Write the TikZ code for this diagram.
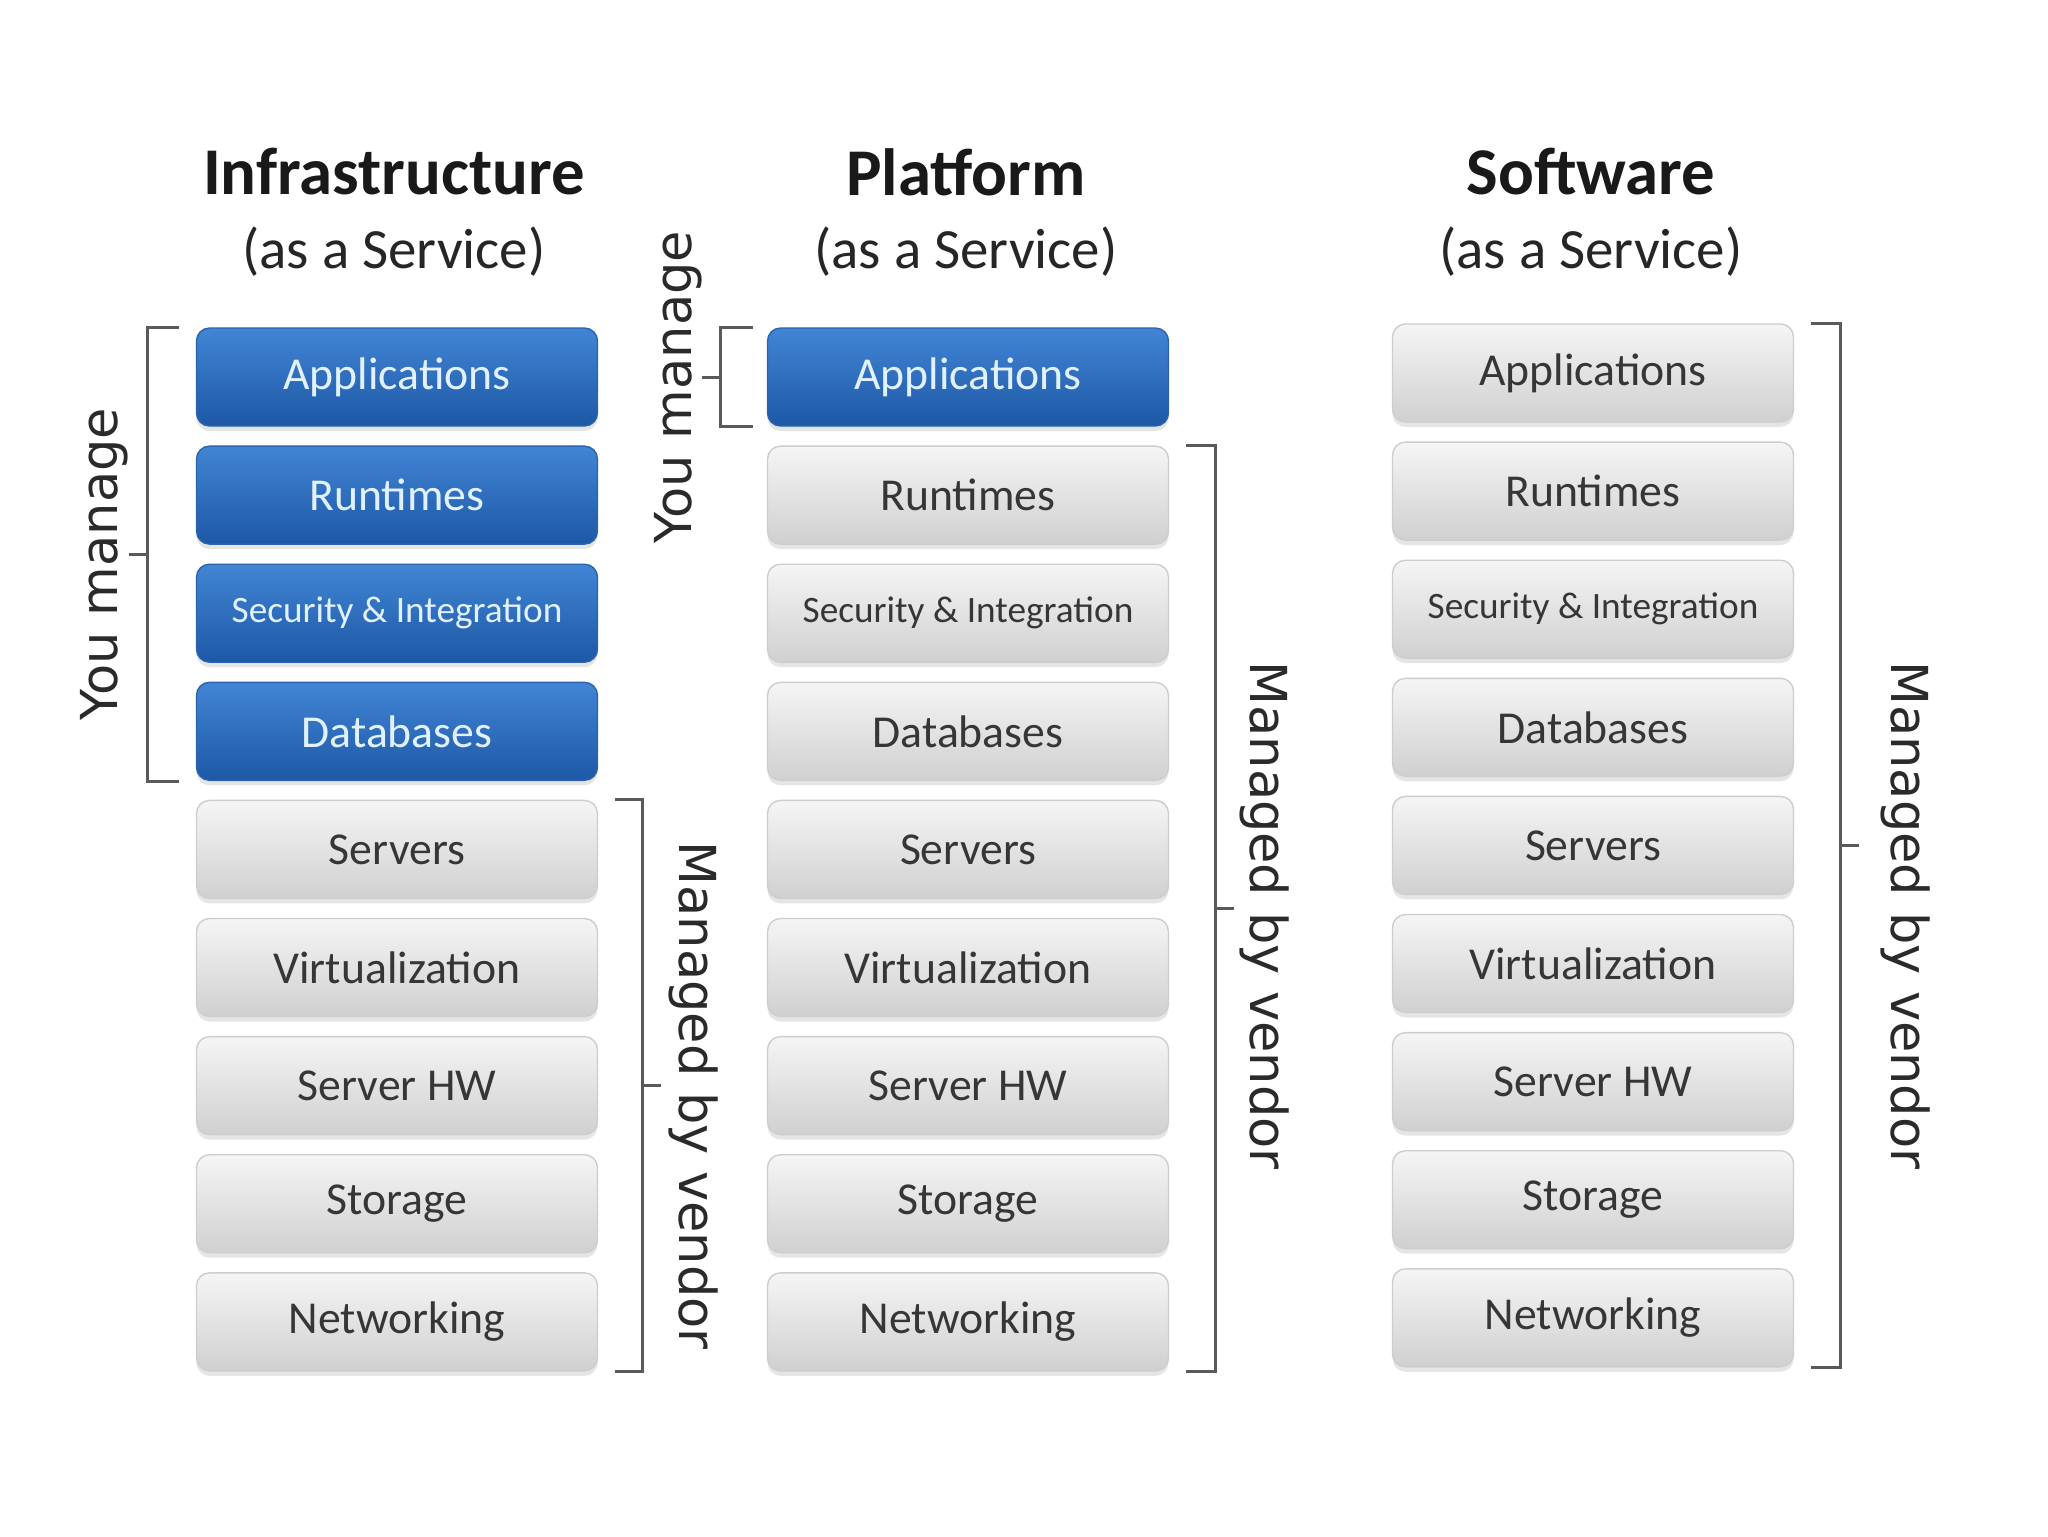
\documentclass[tikz,border=0pt]{standalone}
\usepackage{fontspec}
\setmainfont{Carlito}
\newfontfamily\sidefont{DejaVu Sans}
\usetikzlibrary{positioning,calc,shadows}
\definecolor{blueTop}{HTML}{4185D4}
\definecolor{blueBot}{HTML}{1D58A6}
\definecolor{blueLine}{HTML}{2B64AE}
\definecolor{blueText}{HTML}{E2F1FF}
\definecolor{grayTop}{HTML}{F5F5F5}
\definecolor{grayBot}{HTML}{D0D0D0}
\definecolor{grayLine}{HTML}{CDCDCD}
\definecolor{grayText}{HTML}{363636}
\definecolor{brkGray}{HTML}{5A5A5A}
\definecolor{sideText}{HTML}{2A2A2A}
\tikzset{
  layer/.style={rectangle,rounded corners=1.3mm,minimum width=40.1mm,minimum height=9.8mm,
    inner sep=0pt,font=\fontsize{13}{15}\selectfont,
    drop shadow={shadow xshift=0mm,shadow yshift=-0.5mm,opacity=0.2}},
  mine/.style={layer,top color=blueTop,bottom color=blueBot,draw=blueLine,text=blueText},
  theirs/.style={layer,top color=grayTop,bottom color=grayBot,draw=grayLine,text=grayText},
  small/.style={font=\fontsize{10.6}{12}\selectfont},
  brk/.style={draw=brkGray,line width=0.3mm},
  side/.style={font=\sidefont\fontsize{14.5}{16}\selectfont,text=sideText,inner sep=0pt},
  title/.style={font=\bfseries\fontsize{19}{22}\selectfont,text=black!90},
  sub/.style={font=\fontsize{16.2}{19}\selectfont,text=black!85},
}
\begin{document}
\begin{tikzpicture}[x=0.1mm,y=-0.1mm,node distance=11.81mm,on grid]
  \useasboundingbox[fill=white] (0,0) rectangle (2048,1536);
  % Infrastructure
  \node[title] (tI) at (394,172) {Infrastructure};
  \node[sub] (sI) at (394,252) {(as a Service)};
  \node[mine] (i1) at (397,377) {Applications};
  \node[mine] (i2) [below=of i1] {Runtimes};
  \node[mine,small] (i3) [below=of i2] {Security \& Integration};
  \node[mine] (i4) [below=of i3] {Databases};
  \node[theirs] (i5) [below=of i4] {Servers};
  \node[theirs] (i6) [below=of i5] {Virtualization};
  \node[theirs] (i7) [below=of i6] {Server HW};
  \node[theirs] (i8) [below=of i7] {Storage};
  \node[theirs] (i9) [below=of i8] {Networking};
  % Platform
  \node[title] (tP) at (966,172) {Platform};
  \node[sub] (sP) at (966,252) {(as a Service)};
  \node[mine] (p1) at (968,377) {Applications};
  \node[theirs] (p2) [below=of p1] {Runtimes};
  \node[theirs,small] (p3) [below=of p2] {Security \& Integration};
  \node[theirs] (p4) [below=of p3] {Databases};
  \node[theirs] (p5) [below=of p4] {Servers};
  \node[theirs] (p6) [below=of p5] {Virtualization};
  \node[theirs] (p7) [below=of p6] {Server HW};
  \node[theirs] (p8) [below=of p7] {Storage};
  \node[theirs] (p9) [below=of p8] {Networking};
  % Software
  \node[title] (tS) at (1591,172) {Software};
  \node[sub] (sS) at (1591,252) {(as a Service)};
  \node[theirs] (s1) at (1593,373) {Applications};
  \node[theirs] (s2) [below=of s1] {Runtimes};
  \node[theirs,small] (s3) [below=of s2] {Security \& Integration};
  \node[theirs] (s4) [below=of s3] {Databases};
  \node[theirs] (s5) [below=of s4] {Servers};
  \node[theirs] (s6) [below=of s5] {Virtualization};
  \node[theirs] (s7) [below=of s6] {Server HW};
  \node[theirs] (s8) [below=of s7] {Storage};
  \node[theirs] (s9) [below=of s8] {Networking};
  % brackets
  \coordinate (ym1) at ($(i1.north west)!0.5!(i4.south west)+(-48,0)$);
  \draw[brk] ($(i1.north west)+(-17,0)$) -- ($(i1.north west)+(-48,0)$)
    -- ($(i4.south west)+(-48,0)$) -- ($(i4.south west)+(-17,0)$);
  \draw[brk] (ym1) -- ++(-19,0);
  \node[side,rotate=90] (yl1) at ($(ym1)+(-44,10)$) {You manage};
  \coordinate (vm1) at ($(i5.north east)!0.5!(i9.south east)+(44,0)$);
  \draw[brk] ($(i5.north east)+(17,0)$) -- ($(i5.north east)+(44,0)$)
    -- ($(i9.south east)+(44,0)$) -- ($(i9.south east)+(17,0)$);
  \draw[brk] (vm1) -- ++(19,0);
  \node[side,rotate=-90] (vl1) at ($(vm1)+(51,10)$) {Managed by vendor};
  \coordinate (ym2) at ($(p1.north west)!0.5!(p1.south west)+(-46,0)$);
  \draw[brk] ($(p1.north west)+(-14,0)$) -- ($(p1.north west)+(-46,0)$)
    -- ($(p1.south west)+(-46,0)$) -- ($(p1.south west)+(-14,0)$);
  \draw[brk] (ym2) -- ++(-19,0);
  \node[side,rotate=90] (yl2) at ($(ym2)+(-43,10)$) {You manage};
  \coordinate (vm2) at ($(p2.north east)!0.5!(p9.south east)+(46,0)$);
  \draw[brk] ($(p2.north east)+(17,0)$) -- ($(p2.north east)+(46,0)$)
    -- ($(p9.south east)+(46,0)$) -- ($(p9.south east)+(17,0)$);
  \draw[brk] (vm2) -- ++(19,0);
  \node[side,rotate=-90] (vl2) at ($(vm2)+(49,7)$) {Managed by vendor};
  \coordinate (vm3) at ($(s1.north east)!0.5!(s9.south east)+(46,0)$);
  \draw[brk] ($(s1.north east)+(17,0)$) -- ($(s1.north east)+(46,0)$)
    -- ($(s9.south east)+(46,0)$) -- ($(s9.south east)+(17,0)$);
  \draw[brk] (vm3) -- ++(19,0);
  \node[side,rotate=-90] (vl3) at ($(vm3)+(65,70)$) {Managed by vendor};
\end{tikzpicture}
\end{document}
